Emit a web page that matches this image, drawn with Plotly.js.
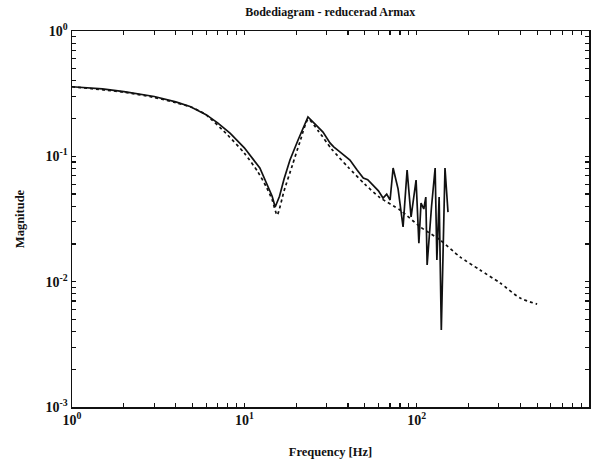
<!DOCTYPE html>
<html>
<head>
<meta charset="utf-8">
<script src="https://cdn.plot.ly/plotly-3.0.1.min.js"></script>
<style>html,body{margin:0;padding:0;background:#fff;}#chart{width:596px;height:461px;}</style>
</head>
<body>
<div id="chart"></div>
<script>
// Measured (solid) frequency response
const measFreq = [1, 1.5, 2, 3, 4, 4.84, 6, 7, 8.26, 10, 12.3, 13.5, 14.5, 15.1, 16, 17, 18.4, 20.5, 23.4, 26, 28.6, 31.4, 33, 36, 41, 45, 49, 52, 55.8, 60, 63.8, 67, 70.1, 73, 78, 83.4, 88, 92.8, 99.2, 103, 106, 110, 113, 115, 122, 128, 131, 135, 139, 146, 152];
const measMag  = [0.359, 0.345, 0.328, 0.300, 0.272, 0.250, 0.215, 0.185, 0.153, 0.117, 0.0807, 0.0612, 0.048, 0.0394, 0.048, 0.066, 0.0934, 0.135, 0.206, 0.178, 0.156, 0.128, 0.119, 0.108, 0.0935, 0.078, 0.067, 0.065, 0.059, 0.053, 0.0465, 0.050, 0.0448, 0.0807, 0.055, 0.0273, 0.0778, 0.0328, 0.0647, 0.0203, 0.0424, 0.038, 0.0473, 0.0136, 0.040, 0.0807, 0.0149, 0.0473, 0.00411, 0.0807, 0.0359];

// Reduced ARMAX model (dotted)
const modelFreq = [1, 2, 3, 4, 5, 6, 8, 10, 12, 13.5, 14.5, 15.5, 17, 19, 21, 23.5, 27, 32, 40, 50, 61, 80, 105, 137, 179, 233, 305, 398, 500];
const modelMag  = [0.359, 0.325, 0.295, 0.268, 0.245, 0.214, 0.148, 0.106, 0.075, 0.056, 0.045, 0.034, 0.053, 0.085, 0.13, 0.198, 0.158, 0.115, 0.082, 0.060, 0.047, 0.0373, 0.0273, 0.0215, 0.0157, 0.0124, 0.00975, 0.0074, 0.00662];

// Axis ticks
const xMajor = [1, 10, 100, 1000];
const xMajorText = ['10<sup>0</sup>', '10<sup>1</sup>', '10<sup>2</sup>', '10<sup>3</sup>'];
const yMajor = [0.001, 0.01, 0.1, 1];
const yMajorText = ['10<sup>-3</sup>', '10<sup>-2</sup>', '10<sup>-1</sup>', '10<sup>0</sup>'];

function minorTicks(major) {
  const vals = [];
  major.forEach((m, i) => {
    if (i < major.length - 1) {
      for (let k = 2; k <= 9; k++) vals.push(m * k);
    }
  });
  return vals;
}

const font = {family: '"Liberation Serif", "DejaVu Serif", serif', color: '#111', weight: 'bold'};

const traces = [
  {x: measFreq, y: measMag, type: 'scatter', mode: 'lines', line: {color: '#111', width: 1.7}, hoverinfo: 'skip'},
  {x: modelFreq, y: modelMag, type: 'scatter', mode: 'lines', line: {color: '#111', width: 1.7, dash: '3px,3px', shape: 'spline', smoothing: 0.6}, hoverinfo: 'skip'}
];

const axisCommon = {
  showgrid: false, zeroline: false, showline: true, linecolor: '#111', linewidth: 1.5,
  mirror: 'ticks', ticks: 'inside', ticklen: 4, tickwidth: 1.2, tickcolor: '#111',
  tickfont: Object.assign({size: 14}, font), tickmode: 'array'
};

const layout = {
  width: 596, height: 461,
  margin: {l: 72, r: 7, t: 31, b: 54},
  paper_bgcolor: '#fff', plot_bgcolor: '#fff',
  showlegend: false,
  font: font,
  title: {text: 'Bodediagram - reducerad Armax', font: Object.assign({size: 12}, font), x: 0.554, xanchor: 'center', y: 0.975, yanchor: 'middle'},
  xaxis: Object.assign({}, axisCommon, {
    type: 'log', range: [0, 3], tickvals: xMajor, ticktext: xMajorText,
    minor: {tickmode: 'array', tickvals: minorTicks(xMajor), ticks: 'inside', ticklen: 4, tickwidth: 1.2, tickcolor: '#111', showgrid: false},
    title: {text: 'Frequency [Hz]', font: Object.assign({size: 12.5}, font), standoff: 20}
  }),
  yaxis: Object.assign({}, axisCommon, {
    type: 'log', range: [-3, 0], tickvals: yMajor, ticktext: yMajorText,
    minor: {tickmode: 'array', tickvals: minorTicks(yMajor), ticks: 'inside', ticklen: 4, tickwidth: 1.2, tickcolor: '#111', showgrid: false},
    title: {text: 'Magnitude', font: Object.assign({size: 12.5}, font), standoff: 18}
  })
};

Plotly.newPlot('chart', traces, layout, {staticPlot: true, displayModeBar: false});
</script>
</body>
</html>
